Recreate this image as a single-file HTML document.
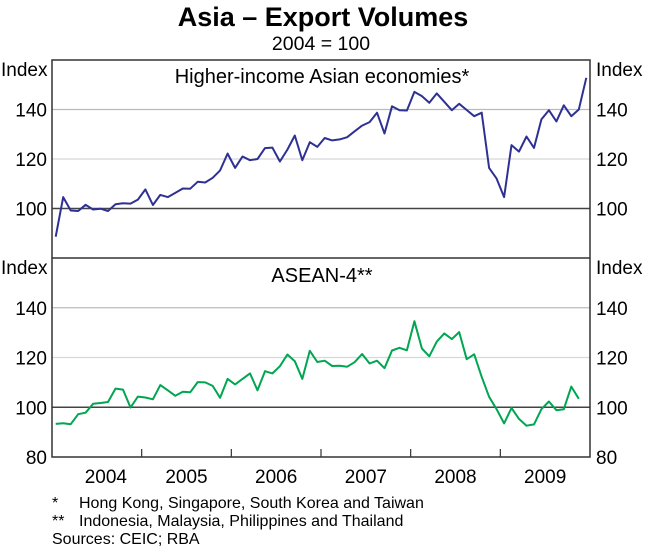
<!DOCTYPE html>
<html><head><meta charset="utf-8"><style>
body{margin:0;background:#fff;}
svg text{font-family:"Liberation Sans",Arial,sans-serif;fill:#000;}
</style></head><body>
<svg id="chart" width="645" height="548" viewBox="0 0 645 548" xmlns="http://www.w3.org/2000/svg">
<text x="323" y="26" text-anchor="middle" font-size="27" font-weight="bold">Asia – Export Volumes</text>
<text x="321" y="50" text-anchor="middle" font-size="19.5">2004 = 100</text>
<g id="grid"></g>
<g id="series"></g>
<rect x="52" y="60" width="538" height="397" fill="none" stroke="#333" stroke-width="1.5"/>
<line x1="52" y1="258" x2="590" y2="258" stroke="#333" stroke-width="1.5"/>
<g id="labels"></g>
<text x="322" y="83" text-anchor="middle" font-size="20">Higher-income Asian economies*</text>
<text x="322" y="282" text-anchor="middle" font-size="20">ASEAN-4**</text>
<text x="1" y="76" font-size="19">Index</text>
<text x="596" y="76" font-size="19">Index</text>
<text x="1" y="274" font-size="19">Index</text>
<text x="596" y="274" font-size="19">Index</text>
<text x="52" y="508" font-size="16">*</text>
<text x="79" y="508" font-size="16">Hong Kong, Singapore, South Korea and Taiwan</text>
<text x="52" y="526" font-size="16">**</text>
<text x="79" y="526" font-size="16">Indonesia, Malaysia, Philippines and Thailand</text>
<text x="52" y="544" font-size="16">Sources: CEIC; RBA</text>
</svg>
<script>
const years = ["2004","2005","2006","2007","2008","2009"];
const yTicks = [80,100,120,140];
const highIncome = [88.6,104.6,99.2,99,101.5,99.6,99.9,99,101.7,102.1,102,103.6,107.7,101.4,105.5,104.6,106.3,108.1,108,110.8,110.5,112.4,115.4,122.2,116.4,121,119.5,120,124.4,124.6,119,123.8,129.5,119.5,126.8,124.9,128.5,127.5,127.9,128.8,131.2,133.5,134.9,138.7,130.3,141.3,139.7,139.6,147.1,145.4,142.7,146.5,143.1,139.7,142.3,139.8,137.3,138.7,116.4,112.1,104.6,125.6,123,129.1,124.5,136,139.7,135.2,141.7,137.3,140,152.8];
const asean4 = [93.3,93.6,93.2,97.2,97.8,101.4,101.7,102.1,107.5,107.1,99.9,104.3,103.9,103.2,108.9,106.8,104.6,106.2,106,110.1,110,108.6,103.8,111.4,109.2,111.4,113.6,106.8,114.5,113.6,116.5,121.2,118.5,111.4,122.7,118.2,118.7,116.6,116.7,116.3,118.1,121.4,117.6,118.7,115.7,122.8,123.9,122.9,134.6,123.6,120.5,126.4,129.7,127.4,130.2,119.3,121.3,112.2,104.2,99.2,93.5,99.7,95.3,92.6,93.1,99.2,102.3,98.8,99.2,108.3,103.4];
const NS="http://www.w3.org/2000/svg";
const X0=52,X1=590,YMIN=80,YMAX=160;
const monthW=(X1-X0)/72;
function x(i){return X0+monthW*(i+0.5);}
function yTop(v){return 258-(v-YMIN)/(YMAX-YMIN)*198;}
function yBot(v){return 457-(v-YMIN)/(YMAX-YMIN)*199;}
function mk(tag,attrs,parent){const e=document.createElementNS(NS,tag);for(const k in attrs)e.setAttribute(k,attrs[k]);parent.appendChild(e);return e;}
const grid=document.getElementById('grid'),ser=document.getElementById('series'),lab=document.getElementById('labels');
[[yTop,'top'],[yBot,'bottom']].forEach(([yf,p])=>{
  yTicks.forEach(t=>{
    if(t>YMIN){
      const l=mk('line',{x1:X0,x2:X1,y1:yf(t),y2:yf(t),stroke:t===100?'#444':(t===120?'#d8d8d8':'#bbb'),'stroke-width':t===100?1.5:1.2},grid);
      
      
    }
    if(p==='bottom'||t>YMIN){
      const a=mk('text',{x:47,y:yf(t)+7,'text-anchor':'end','font-size':19},lab);a.textContent=t;
      
      
      const b=mk('text',{x:596,y:yf(t)+7,'font-size':19},lab);b.textContent=t;
      
      
    }
  });
});
years.forEach((yr,k)=>{
  if(k>0){const tk=mk('line',{x1:X0+k*12*monthW,x2:X0+k*12*monthW,y1:449,y2:457,stroke:'#333','stroke-width':1.2},lab);
  
  }
  const t=mk('text',{x:X0+(k*12+6)*monthW+(k===0?9:0),y:483,'text-anchor':'middle','font-size':19},lab);t.textContent=yr;
  
  
});
function line(data,yf,color,name){
  const d=data.map((v,i)=>(i?'L':'M')+x(i).toFixed(1)+','+yf(v).toFixed(1)).join('');
  const p=mk('path',{d:d,fill:'none',stroke:color,'stroke-width':2,'stroke-linejoin':'round'},ser);
  
  
}
line(highIncome,yTop,'#2e3192','higher-income-line');
line(asean4,yBot,'#00a651','asean4-line');
</script>
</body></html>
